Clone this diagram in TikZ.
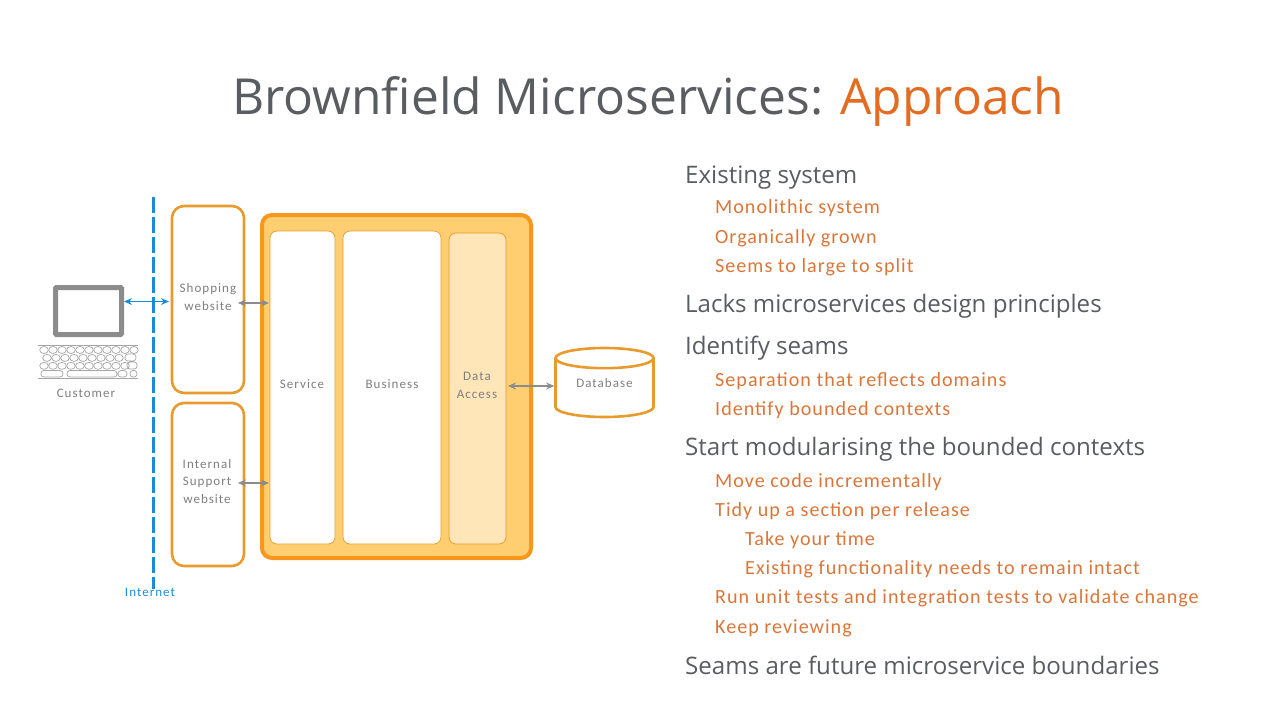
\documentclass[tikz,border=0pt]{standalone}
\usepackage{fontspec}
\setmainfont{Open Sans}
\newfontfamily\labelfont[LetterSpace=8]{Carlito}
\newfontfamily\subfont[LetterSpace=5]{Carlito}
\usetikzlibrary{calc, shapes.geometric, arrows.meta}
\definecolor{titlegrey}{HTML}{595C60}
\definecolor{accent}{HTML}{E36C22}
\definecolor{subtext}{HTML}{DB763A}
\definecolor{boxline}{HTML}{E99A2C}
\definecolor{bigline}{HTML}{F7971D}
\definecolor{bigfill}{HTML}{FFCE70}
\definecolor{datafill}{HTML}{FFE6B8}
\definecolor{netblue}{HTML}{1B8AD8}
\definecolor{labelgrey}{HTML}{7F7F7F}
\definecolor{arrowgrey}{HTML}{8C8C8C}
\tikzstyle{site}    = [rectangle, rounded corners=12pt, draw=boxline, line width=2.6pt, fill=white, minimum width=72pt, inner sep=0pt]
\tikzstyle{big}     = [rectangle, rounded corners=10pt, draw=bigline, line width=4pt, fill=bigfill, minimum width=269pt, minimum height=343pt]
\tikzstyle{layer}   = [rectangle, rounded corners=7pt, draw=boxline, line width=.7pt, fill=white]
\tikzstyle{small}   = [font=\labelfont\fontsize{13}{17.5}\selectfont, text=labelgrey, align=center]
\tikzstyle{db}      = [cylinder, shape border rotate=90, aspect=.32, draw=boxline, line width=2.6pt, fill=white, minimum width=98pt, minimum height=69pt, anchor=shape center, small]
\tikzstyle{arrow}   = [line width=1.2pt, draw=arrowgrey, {Stealth[length=8pt,width=7pt]}-{Stealth[length=8pt,width=7pt]}]
\tikzstyle{lvlone}  = [anchor=west, inner sep=0pt, text=titlegrey, font=\fontsize{24.1}{27}\selectfont]
\tikzstyle{lvltwo}  = [anchor=west, inner sep=0pt, text=subtext, font=\subfont\fontsize{20.1}{24}\selectfont]
\begin{document}
\begin{tikzpicture}[x=1pt, y=-1pt]
    \useasboundingbox (0,0) rectangle (1280,720);

    \node (title) [anchor=center, inner sep=0pt, text=titlegrey, font=\fontsize{49.7}{54}\selectfont] at (648,101) {Brownfield Microservices: \textcolor{accent}{Approach}};

    % customer
    \node (screen) [rectangle, draw=arrowgrey, line width=5pt, fill=white, minimum width=66pt, minimum height=47pt, rounded corners=1pt] at (88.5,311) {};
    \draw [labelgrey!70, line width=.7pt] (38,345) -- (138,345) (38,378) -- (138,378);
    \foreach \row/\offs/\last in {0/44/10, 1/47/8, 2/44/9}
      \foreach \col in {0,...,\last}
        \draw [labelgrey!70, line width=.7pt] ({\offs+\col*9},{350+\row*7.9}) ellipse (4.3pt and 3.5pt);
    \draw [labelgrey!70, line width=.7pt, rounded corners=3pt] (125,354) rectangle (136,361) (127,362) rectangle (137,369) (41,370.5) rectangle (63,377) (67,370.5) rectangle (117,377) (118,370.5) rectangle (127,377) (130,370.5) rectangle (137,377);
    \node (customer) [small] at (86,393) {Customer};

    % internet line
    \coordinate (nettop) at (153.5,197);
    \coordinate (netend) at (153.5,589);
    \draw [netblue, line width=3pt, dash pattern=on 16pt off 4pt] (nettop) -- (netend);
    \node (internet) [small, text=netblue] at (150,592) {Internet};

    % websites
    \node (shop) [site, minimum height=187pt] at (208,299.5) {};
    \node (shoplabel) [small] at (208,297) {Shopping\\website};
    \node (support) [site, minimum height=163pt] at (208,484.5) {};
    \node (supportlabel) [small] at (207,481.5) {Internal\\Support\\website};

    % application
    \node (app) [big] at (396.5,386.5) {};
    \node (service) [layer, minimum width=65pt, minimum height=313pt] at (302.5,387.5) {};
    \node (business) [layer, minimum width=98pt, minimum height=313pt] at (392,387.5) {};
    \node (data) [layer, fill=datafill, minimum width=57pt, minimum height=311pt] at (477.5,388.5) {};
    \node (servicelabel) [small] at (302,384) {Service};
    \node (businesslabel) [small] at (392,384) {Business};
    \node (datalabel) [small] at (477,385.5) {Data\\Access};
    \node (database) [db] at (604.5,382.5) {\phantom{Database}};
    \node (databaselabel) [small] at (604.5,383) {Database};

    % arrows
    \coordinate (shopin) at (169,301.5);
    \coordinate (shopout) at (238,303);
    \coordinate (appshop) at (269,303);
    \coordinate (supportout) at (238,483);
    \coordinate (appsupport) at (269,483);
    \coordinate (dataout) at (508,386);
    \draw [arrow, draw=netblue] (screen.east |- shopin) -- (shopin);
    \draw [arrow] (shopout) -- (appshop);
    \draw [arrow] (supportout) -- (appsupport);
    \draw [arrow] (dataout) -- (database.west |- dataout);

    % bullets
    \node (t1) [lvlone] at (685,177.5) {Existing system};
    \node (t2) [lvltwo] at (715,208) {Monolithic system};
    \node (t3) [lvltwo] at (715,238) {Organically grown};
    \node (t4) [lvltwo] at (715,267) {Seems to large to split};
    \node (t5) [lvlone] at (685,306) {Lacks microservices design principles};
    \node (t6) [lvlone] at (685,348) {Identify seams};
    \node (t7) [lvltwo] at (715,381) {Separation that reflects domains};
    \node (t8) [lvltwo] at (715,410) {Identify bounded contexts};
    \node (t9) [lvlone] at (685,449) {Start modularising the bounded contexts};
    \node (t10) [lvltwo] at (715,482) {Move code incrementally};
    \node (t11) [lvltwo] at (715,511) {Tidy up a section per release};
    \node (t12) [lvltwo] at (745,540) {Take your time};
    \node (t13) [lvltwo] at (745,569) {Existing functionality needs to remain intact};
    \node (t14) [lvltwo] at (715,598) {Run unit tests and integration tests to validate change};
    \node (t15) [lvltwo] at (715,628) {Keep reviewing};
    \node (t16) [lvlone] at (685,665.5) {Seams are future microservice boundaries};
  \end{tikzpicture}
\end{document}
